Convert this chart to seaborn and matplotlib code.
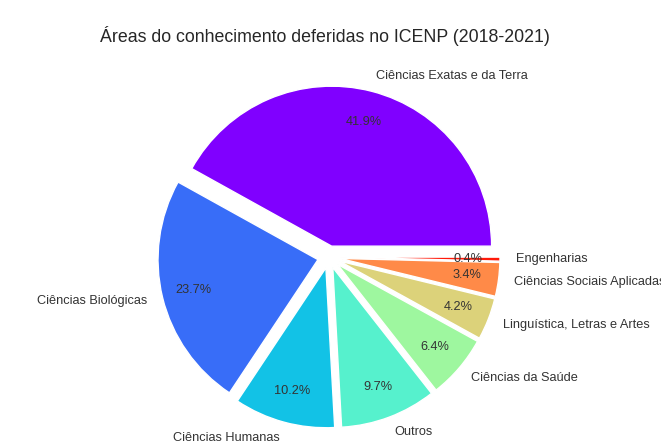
import matplotlib.pyplot as plt
import seaborn as sns

# Áreas do conhecimento (ordem do gráfico)
areas = [
    'Ciências Exatas e da Terra',
    'Ciências Biológicas',
    'Ciências Humanas',
    'Outros',
    'Ciências da Saúde',
    'Linguística, Letras e Artes',
    'Ciências Sociais Aplicadas',
    'Engenharias',
]
percentuais = [41.9, 23.7, 10.2, 9.7, 6.4, 4.2, 3.4, 0.4]

sns.set_theme(style='white')
plt.rcParams['font.family'] = ['Liberation Sans', 'DejaVu Sans']

# paleta tipo "rainbow"
cores = ['#8000ff', '#386df8', '#12c2e6', '#56f1cd', '#9ef79f',
         '#dcd27a', '#ff8a48', '#ff1a0a']
explode = [0.07] * len(areas)

fig = plt.figure(figsize=(6.61, 4.45), dpi=100)
ax = fig.add_axes([0.195, -0.027, 0.605, 0.899])

ax.pie(percentuais, labels=areas, colors=cores, explode=explode,
       autopct='%1.1f%%', pctdistance=0.8, labeldistance=1.1,
       textprops={'fontsize': 9.2, 'color': '#333333'})
ax.set_title('Áreas do conhecimento deferidas no ICENP (2018-2021)',
             fontsize=12.8, color='#262626', x=0.49, pad=11)

plt.savefig('out.png', dpi=100)
